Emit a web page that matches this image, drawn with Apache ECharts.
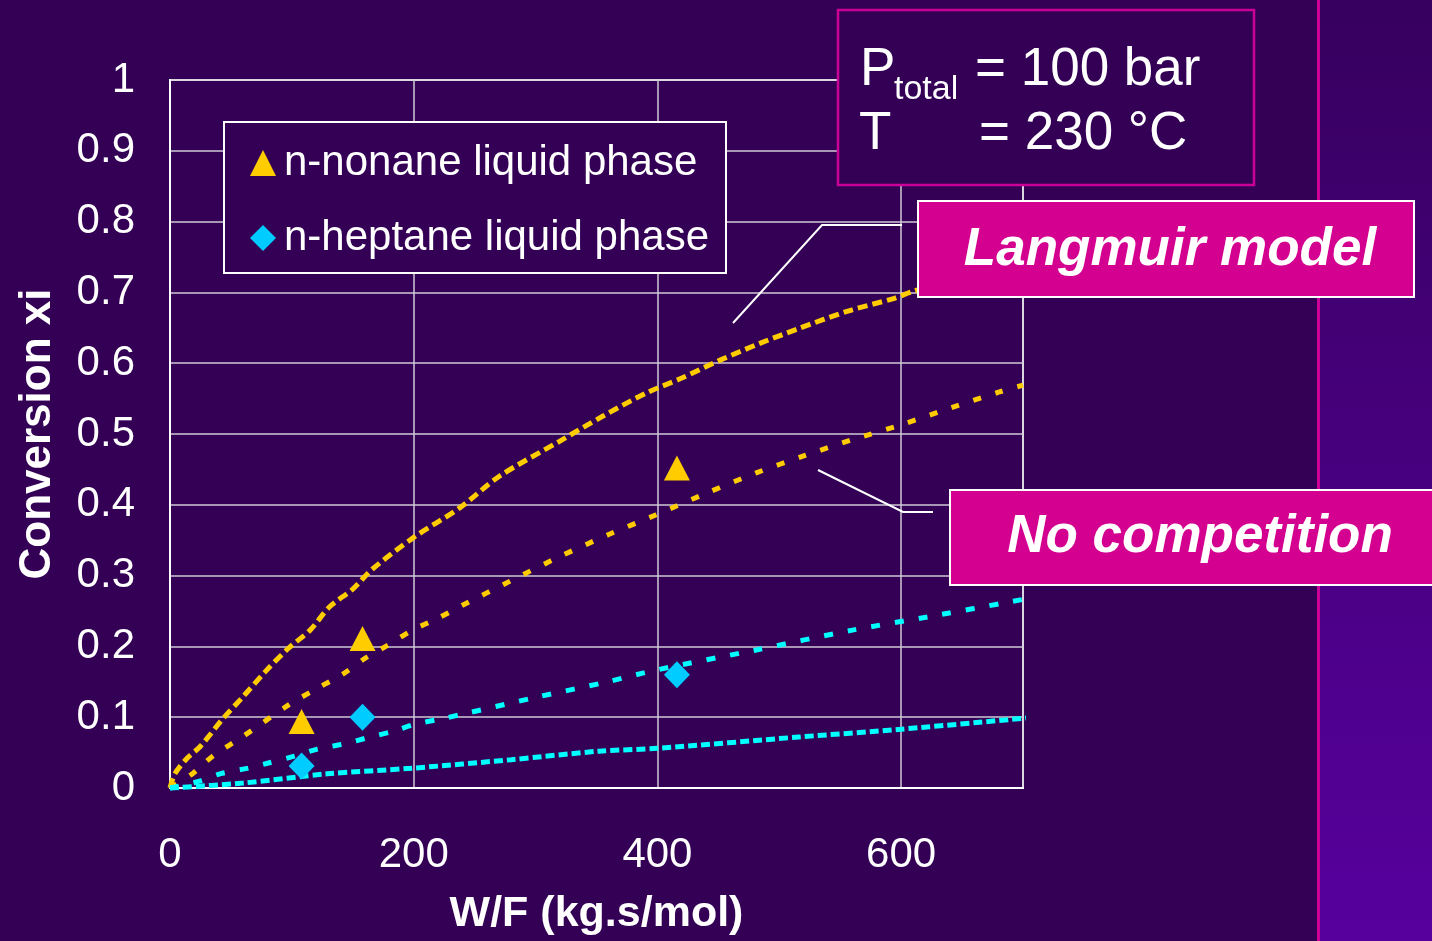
<!DOCTYPE html>
<html>
<head>
<meta charset="utf-8">
<script src="https://cdn.jsdelivr.net/npm/echarts@6/dist/echarts.min.js"></script>
<style>
  html, body { margin: 0; padding: 0; background: #330055; }
  #chart { width: 1432px; height: 941px; }
</style>
</head>
<body>
<div id="chart"></div>
<script>
// W/F (kg.s/mol) and conversion values for each curve
const wfLangNonane = [0, 4, 14, 25, 43, 60, 78, 97, 115, 131, 150, 166, 200, 238, 270, 320, 355, 391, 420, 451, 484, 516, 557, 593, 609, 650, 700];
const xLangNonane  = [0, 0.02, 0.042, 0.059, 0.097, 0.129, 0.164, 0.197, 0.223, 0.256, 0.281, 0.309, 0.354, 0.396, 0.44, 0.49, 0.525, 0.558, 0.579, 0.604, 0.628, 0.649, 0.674, 0.691, 0.701, 0.722, 0.745];

const wfFreeNonane = [0, 19, 35, 60, 98, 119, 141, 160, 179, 199, 219, 240, 280, 320, 360, 399, 441, 481, 520, 560, 600, 641, 680, 700];
const xFreeNonane  = [0, 0.021, 0.045, 0.073, 0.118, 0.139, 0.16, 0.183, 0.202, 0.223, 0.239, 0.258, 0.293, 0.327, 0.358, 0.386, 0.417, 0.445, 0.469, 0.492, 0.513, 0.537, 0.559, 0.569];

const wfFreeHeptane = [0, 25, 41, 64, 80, 102, 121, 145, 160, 183, 201, 224, 242, 300, 359, 400, 481, 560, 623, 705];
const xFreeHeptane  = [0, 0.01, 0.02, 0.028, 0.035, 0.045, 0.055, 0.063, 0.07, 0.08, 0.09, 0.098, 0.105, 0.128, 0.15, 0.167, 0.195, 0.223, 0.242, 0.268];

const wfLangHeptane = [0, 60, 129, 199, 280, 352, 400, 516, 600, 710];
const xLangHeptane  = [0, 0.007, 0.02, 0.028, 0.04, 0.052, 0.056, 0.072, 0.083, 0.1];

// Measured points
const wfMeasured = [108, 158, 416];
const xNonane    = [0.094, 0.211, 0.452];
const xHeptane   = [0.031, 0.100, 0.160];

const xTicks = [0, 200, 400, 600];

const BG = '#330055';
const MAGENTA = '#D4008F';
const FONT = '"Liberation Sans", Arial, sans-serif';

const zip = (a, b) => a.map((v, i) => [v, b[i]]);

const chart = echarts.init(document.getElementById('chart'), null, { renderer: 'canvas' });

const curve = (name, xs, ys, color, dash) => ({
  name, type: 'line', data: zip(xs, ys), symbol: 'none', smooth: 0.3, clip: false,
  lineStyle: { color, width: 5, type: dash }, z: 2, silent: true
});

chart.setOption({
  backgroundColor: BG,
  animation: false,
  grid: { left: 170, top: 80, width: 853, height: 712, show: true, borderColor: '#ffffff', borderWidth: 2 },
  legend: {
    orient: 'vertical', left: 245, top: 137, itemGap: 33,
    itemWidth: 26, itemHeight: 26, selectedMode: false, z: 5,
    textStyle: { color: '#ffffff', fontSize: 42, fontFamily: FONT, padding: [0, 0, 0, 3] },
    data: [
      { name: 'n-nonane liquid phase', icon: 'triangle' },
      { name: 'n-heptane liquid phase', icon: 'diamond' }
    ]
  },
  xAxis: {
    type: 'value', min: 0, max: 700, interval: 200,
    name: 'W/F (kg.s/mol)', nameLocation: 'middle', nameGap: 105,
    nameTextStyle: { color: '#ffffff', fontSize: 43, fontWeight: 'bold', fontFamily: FONT },
    axisLine: { lineStyle: { color: '#ffffff', width: 2 } },
    axisTick: { show: false },
    axisLabel: {
      color: '#ffffff', fontSize: 42, fontFamily: FONT, margin: 46, showMaxLabel: false,
      formatter: v => (xTicks.includes(v) ? String(v) : '')
    },
    splitLine: { show: true, lineStyle: { color: '#cfcad6', width: 1.5 } }
  },
  yAxis: {
    type: 'value', min: 0, max: 1, interval: 0.1,
    name: 'Conversion xi', nameLocation: 'middle', nameGap: 110, nameRotate: 90,
    nameTextStyle: { color: '#ffffff', fontSize: 44, fontWeight: 'bold', fontFamily: FONT },
    axisLine: { lineStyle: { color: '#ffffff', width: 2 } },
    axisTick: { show: false },
    axisLabel: { color: '#ffffff', fontSize: 42, fontFamily: FONT, margin: 35 },
    splitLine: { show: true, lineStyle: { color: '#cfcad6', width: 1.5 } }
  },
  series: [
    curve('Langmuir nonane', wfLangNonane, xLangNonane, '#FFCC00', [10, 5]),
    curve('Free nonane', wfFreeNonane, xFreeNonane, '#FFCC00', [8, 15]),
    curve('Free heptane', wfFreeHeptane, xFreeHeptane, '#00FFFF', [9, 15]),
    curve('Langmuir heptane', wfLangHeptane, xLangHeptane, '#00FFFF', [9, 4]),
    {
      name: 'n-nonane liquid phase', type: 'scatter', data: zip(wfMeasured, xNonane),
      symbol: 'triangle', symbolSize: [26, 25], itemStyle: { color: '#FFCC00', opacity: 1 }, z: 3
    },
    {
      name: 'n-heptane liquid phase', type: 'scatter', data: zip(wfMeasured, xHeptane),
      symbol: 'diamond', symbolSize: [26, 27], itemStyle: { color: '#00CCFF', opacity: 1 }, z: 3
    }
  ],
  graphic: [
    // right-hand band of the slide
    {
      type: 'rect', z: 0, silent: true,
      shape: { x: 1319, y: 0, width: 113, height: 941 },
      style: {
        fill: new echarts.graphic.LinearGradient(0, 0, 0, 1, [
          { offset: 0, color: '#37005F' }, { offset: 1, color: '#57009E' }
        ])
      }
    },
    { type: 'line', z: 1, silent: true, shape: { x1: 1318.5, y1: 0, x2: 1318.5, y2: 941 }, style: { stroke: '#CC0099', lineWidth: 3 } },
    // legend frame
    {
      type: 'rect', z: 4, silent: true,
      shape: { x: 224, y: 122, width: 502, height: 151 },
      style: { fill: BG, stroke: '#ffffff', lineWidth: 2 }
    },
    // operating conditions
    {
      type: 'rect', z: 10, silent: true,
      shape: { x: 838, y: 10, width: 416, height: 175 },
      style: { fill: BG, stroke: '#CC0099', lineWidth: 2.5 }
    },
    { type: 'text', z: 11, silent: true, x: 860, y: 70, style: { text: 'P', fill: '#fff', font: '53px ' + FONT, verticalAlign: 'middle' } },
    { type: 'text', z: 11, silent: true, x: 894, y: 90, style: { text: 'total', fill: '#fff', font: '34px ' + FONT, verticalAlign: 'middle' } },
    { type: 'text', z: 11, silent: true, x: 975, y: 70, style: { text: '= 100 bar', fill: '#fff', font: '53px ' + FONT, verticalAlign: 'middle' } },
    { type: 'text', z: 11, silent: true, x: 859, y: 134, style: { text: 'T', fill: '#fff', font: '53px ' + FONT, verticalAlign: 'middle' } },
    { type: 'text', z: 11, silent: true, x: 979, y: 134, style: { text: '= 230 °C', fill: '#fff', font: '53px ' + FONT, verticalAlign: 'middle' } },
    // leader lines
    { type: 'polyline', z: 9, silent: true, shape: { points: [[733, 323], [822, 225], [902, 225]] }, style: { stroke: '#ffffff', lineWidth: 2, fill: null } },
    { type: 'polyline', z: 9, silent: true, shape: { points: [[818, 470], [903, 512], [933, 512]] }, style: { stroke: '#ffffff', lineWidth: 2, fill: null } },
    // model labels
    {
      type: 'rect', z: 10, silent: true,
      shape: { x: 918, y: 201, width: 496, height: 96 },
      style: { fill: MAGENTA, stroke: '#ffffff', lineWidth: 2 }
    },
    { type: 'text', z: 11, silent: true, x: 1170, y: 250, style: { text: 'Langmuir model', fill: '#fff', font: 'italic bold 53px ' + FONT, align: 'center', verticalAlign: 'middle' } },
    {
      type: 'rect', z: 10, silent: true,
      shape: { x: 950, y: 490, width: 500, height: 95 },
      style: { fill: MAGENTA, stroke: '#ffffff', lineWidth: 2 }
    },
    { type: 'text', z: 11, silent: true, x: 1200, y: 537, style: { text: 'No competition', fill: '#fff', font: 'italic bold 53px ' + FONT, align: 'center', verticalAlign: 'middle' } }
  ]
});
</script>
</body>
</html>
